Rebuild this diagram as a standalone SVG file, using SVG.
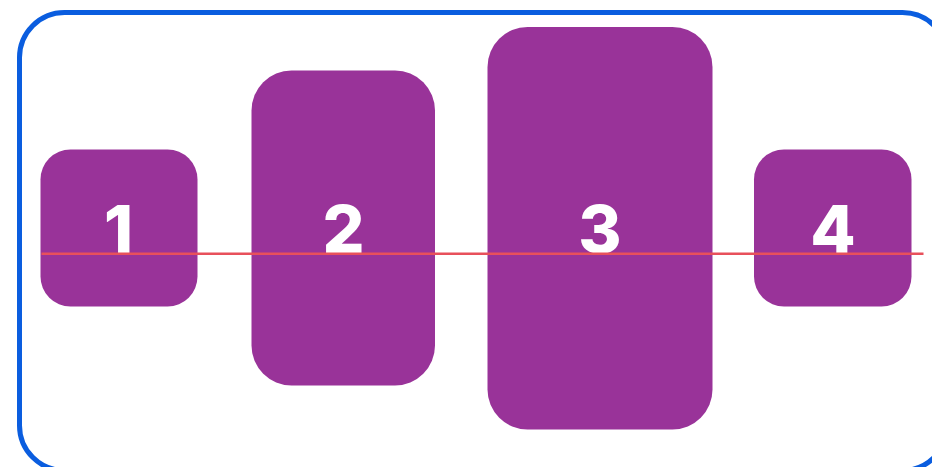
<svg xmlns="http://www.w3.org/2000/svg" width="932" height="467" viewBox="0 0 932 467">
<style>
.box{fill:#993399}
.lbl{fill:#ffffff;font-family:Inter,"Liberation Sans",sans-serif;font-weight:800;font-size:66px;text-anchor:middle}
</style>
<rect x="0" y="0" width="932" height="467" fill="#ffffff"/>
<rect id="frame" x="19.5" y="12.5" width="928" height="458" rx="45" fill="none" stroke="#0a5ddf" stroke-width="5"/>
<g id="node1"><rect class="box" x="40.5" y="149.5" width="157" height="157" rx="30"/><text class="lbl" x="118.5" y="252.5">1</text></g>
<g id="node2"><rect class="box" x="251.5" y="70.5" width="183.5" height="315" rx="40"/><text class="lbl" x="343.5" y="252.5">2</text></g>
<g id="node3"><rect class="box" x="487.5" y="27" width="225" height="402.5" rx="40"/><text class="lbl" x="600" y="252.5">3</text></g>
<g id="node4"><rect class="box" x="754" y="149.5" width="157.5" height="157" rx="30"/><text class="lbl" x="833" y="252.5">4</text></g>
<g id="connectors"><line x1="41.5" y1="253.7" x2="923.5" y2="253.7" stroke="#e8505b" stroke-width="2.5"/></g>
</svg>
